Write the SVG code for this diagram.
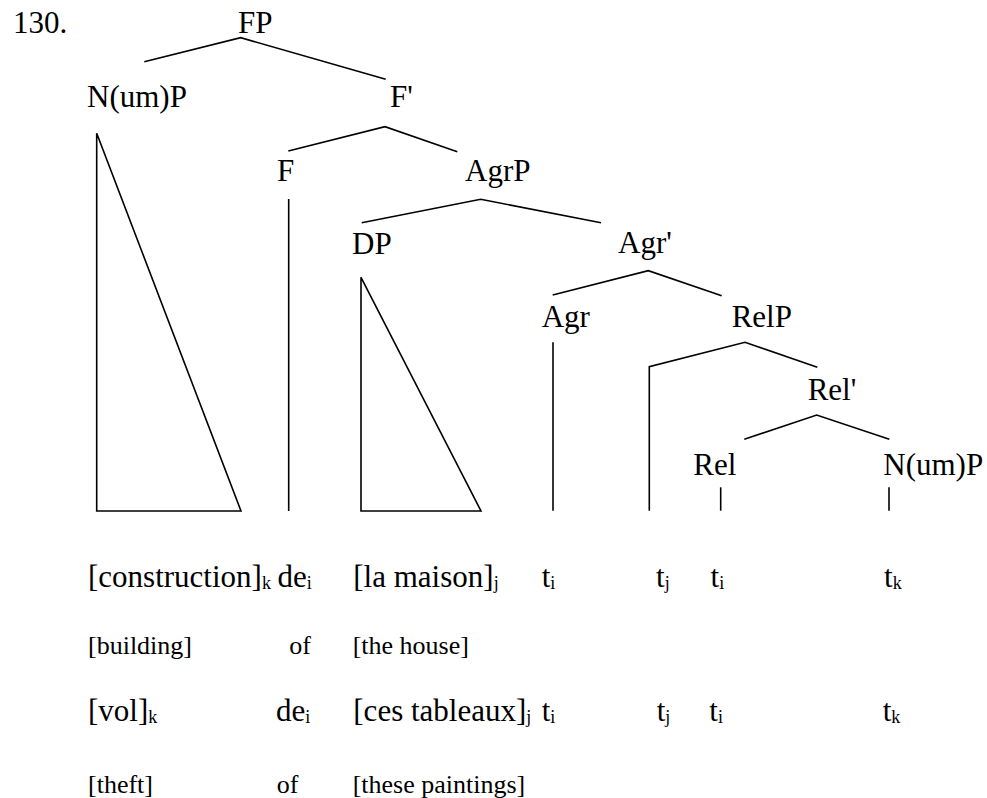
<svg xmlns="http://www.w3.org/2000/svg" width="987" height="798" viewBox="0 0 987 798" font-family="Liberation Serif, Times New Roman, Times, serif">
<style>
.L{font-size:31px}
.S{font-size:26px}
.sub{font-size:18px}
.e{stroke:#000;stroke-width:1.6;fill:none;stroke-linejoin:miter}
</style>
<rect width="987" height="798" fill="#fff"/>
<g font-family="Liberation Serif, Times New Roman, Times, serif" fill="#000">
<text class="L" x="13" y="33">130.</text>
<g id="connectors">
<polyline class="e" points="144.3,61.7 240.7,37.7 385.7,79.3"/>
<polyline class="e" points="288.3,151 385,126.7 457.3,151.7"/>
<polyline class="e" points="361.7,222.7 480.7,199.3 601,222.7"/>
<polyline class="e" points="552.7,295 648.3,270.7 721.7,295.7"/>
<polyline class="e" points="649.3,510.7 649.3,366.7 745,342.3 817.3,367.3"/>
<polyline class="e" points="744.3,439.3 816.7,415 889.3,439.3"/>
<polygon class="e" points="96.7,133.3 96.7,511 241,511"/>
<line class="e" x1="288.7" y1="199" x2="288.7" y2="511"/>
<polygon class="e" points="361,277.3 361,511 481,511"/>
<line class="e" x1="553" y1="342.3" x2="553" y2="510.7"/>
<line class="e" x1="720.7" y1="487.3" x2="720.7" y2="510.7"/>
<line class="e" x1="889" y1="487.3" x2="889" y2="510.7"/>
</g>
<g id="FP"><text class="L" x="238" y="33">FP</text></g>
<g id="NumP1"><text class="L" x="87" y="107">N(um)P</text></g>
<g id="Fbar"><text class="L" x="390" y="107">F'</text></g>
<g id="F"><text class="L" x="277" y="181">F</text></g>
<g id="AgrP"><text class="L" x="465" y="181">AgrP</text></g>
<g id="DP"><text class="L" x="352" y="254">DP</text></g>
<g id="Agrbar"><text class="L" x="618" y="253">Agr'</text></g>
<g id="Agr"><text class="L" x="541.7" y="327">Agr</text></g>
<g id="RelP"><text class="L" x="731.7" y="327">RelP</text></g>
<g id="Relbar"><text class="L" x="807.7" y="400">Rel'</text></g>
<g id="Rel"><text class="L" x="693.3" y="475">Rel</text></g>
<g id="NumP2"><text class="L" x="883.3" y="475">N(um)P</text></g>
<g id="row1">
<text class="L" x="88" y="587">[construction]<tspan class="sub" dy="2">k</tspan></text>
<text class="L" x="277.5" y="587">de<tspan class="sub" dy="2">i</tspan></text>
<text class="L" x="353.3" y="587">[la maison]<tspan class="sub" dy="2">j</tspan></text>
<text class="L" x="541.7" y="587">t<tspan class="sub" dy="2">i</tspan></text>
<text class="L" x="656" y="587">t<tspan class="sub" dy="2">j</tspan></text>
<text class="L" x="710.5" y="587">t<tspan class="sub" dy="2">i</tspan></text>
<text class="L" x="884" y="587">t<tspan class="sub" dy="2">k</tspan></text>
</g>
<g id="row2">
<text class="S" x="88" y="654">[building]</text>
<text class="S" x="289.3" y="654">of</text>
<text class="S" x="352.7" y="654">[the house]</text>
</g>
<g id="row3">
<text class="L" x="88" y="721">[vol]<tspan class="sub" dy="2">k</tspan></text>
<text class="L" x="276" y="721">de<tspan class="sub" dy="2">i</tspan></text>
<text class="L" x="353.3" y="721">[ces tableaux]<tspan class="sub" dy="2">j</tspan></text>
<text class="L" x="541.7" y="721">t<tspan class="sub" dy="2">i</tspan></text>
<text class="L" x="656.7" y="721">t<tspan class="sub" dy="2">j</tspan></text>
<text class="L" x="709.3" y="721">t<tspan class="sub" dy="2">i</tspan></text>
<text class="L" x="882.7" y="721">t<tspan class="sub" dy="2">k</tspan></text>
</g>
<g id="row4">
<text class="S" x="88" y="793">[theft]</text>
<text class="S" x="276.7" y="793">of</text>
<text class="S" x="352.7" y="793">[these paintings]</text>
</g>
</g>
</svg>
